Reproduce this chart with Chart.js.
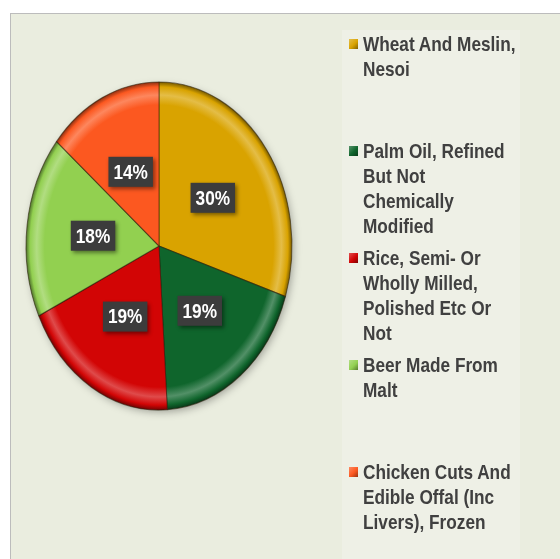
<!DOCTYPE html>
<html>
<head>
<meta charset="utf-8">
<script src="https://cdn.jsdelivr.net/npm/chart.js@4.4.1/dist/chart.umd.min.js"></script>
<style>
  html, body { margin: 0; padding: 0; background: #ffffff; }
  body { width: 560px; height: 559px; position: relative; overflow: hidden; }
  #frame {
    position: absolute; left: 10px; top: 13px; width: 600px; height: 600px;
    background: #eaeddf; border-left: 1px solid #bcbcbc; border-top: 1px solid #bcbcbc;
  }
  #legendPanel {
    position: absolute; left: 342px; top: 30px; width: 178px; height: 540px;
    background: #eef0e6;
  }
  #chartWrap { position: absolute; left: 0; top: 0; width: 560px; height: 559px; }
  .item { position: absolute; left: 349px; }
  .item .box { position: absolute; left: 0; top: 8px; width: 9px; height: 10px; }
  .item .txt {
    position: absolute; left: 14px; top: 0; white-space: nowrap;
    font-family: "Liberation Sans", Arial, sans-serif;
    font-weight: bold; font-size: 21px; line-height: 25px; color: #404040;
    transform: scaleX(0.82); transform-origin: 0 0;
  }
</style>
</head>
<body>
<div id="frame"></div>
<div id="legendPanel"></div>
<div id="chartWrap"><canvas id="myChart" width="560" height="559"></canvas></div>
<div id="legend"></div>
<script>
// data
const categories = [
    ["Wheat And Meslin,", "Nesoi"],
    ["Palm Oil, Refined", "But Not", "Chemically", "Modified"],
    ["Rice, Semi- Or", "Wholly Milled,", "Polished Etc Or", "Not"],
    ["Beer Made From", "Malt"],
    ["Chicken Cuts And", "Edible Offal (Inc", "Livers), Frozen"]
];
const shares = [30, 19, 19, 18, 14];
const sliceColors = ["#d9a300", "#0f652c", "#d20505", "#92d050", "#fc5820"];

const labelFont = 'bold 21px "Liberation Sans", Arial, sans-serif';
const narrow = 0.82; // condensed look of the original font

// pie geometry (circle in chart space, stretched vertically into an ellipse)
const pieRadius = 133;
const stretchY = 164 / 133;

function shade(hex, amt) {
    let r = parseInt(hex.substr(1, 2), 16);
    let g = parseInt(hex.substr(3, 2), 16);
    let b = parseInt(hex.substr(5, 2), 16);
    if (amt > 0) {
        r = r + (255 - r) * amt; g = g + (255 - g) * amt; b = b + (255 - b) * amt;
    } else {
        r = r * (1 + amt); g = g * (1 + amt); b = b * (1 + amt);
    }
    return "rgb(" + Math.round(r) + "," + Math.round(g) + "," + Math.round(b) + ")";
}

function sliceFill(context) {
    const chart = context.chart;
    const area = chart.chartArea;
    const base = sliceColors[context.dataIndex];
    if (!area) return base;
    const cx = (area.left + area.right) / 2;
    const cy = (area.top + area.bottom) / 2;
    const g = chart.ctx.createRadialGradient(cx, cy, 0, cx, cy, pieRadius);
    g.addColorStop(0, base);
    g.addColorStop(0.86, base);
    g.addColorStop(0.92, shade(base, 0.28));
    g.addColorStop(0.97, base);
    g.addColorStop(1, shade(base, -0.45));
    return g;
}

// stretch the pie and draw the dark percentage boxes
const ellipsePlugin = {
    id: "ellipsePie",
    beforeDatasetsDraw(chart) {
        const ctx = chart.ctx;
        const area = chart.chartArea;
        const cx = (area.left + area.right) / 2;
        const cy = (area.top + area.bottom) / 2;
        ctx.save();
        ctx.translate(cx, cy);
        ctx.scale(1, stretchY);
        ctx.translate(-cx, -cy);
        // soft shadow under the pie
        ctx.save();
        ctx.shadowColor = "rgba(0,0,0,0.35)";
        ctx.shadowBlur = 9;
        ctx.shadowOffsetX = 2;
        ctx.shadowOffsetY = 3;
        ctx.fillStyle = "#888";
        ctx.beginPath();
        ctx.arc(cx, cy, pieRadius - 1, 0, Math.PI * 2);
        ctx.fill();
        ctx.restore();
    },
    afterDatasetsDraw(chart) {
        const ctx = chart.ctx;
        ctx.restore();
        const area = chart.chartArea;
        const cy = (area.top + area.bottom) / 2;
        const meta = chart.getDatasetMeta(0);
        ctx.save();
        ctx.font = labelFont;
        ctx.textAlign = "center";
        ctx.textBaseline = "middle";
        meta.data.forEach((arc, i) => {
            const p = arc.tooltipPosition();
            const x = p.x;
            const y = cy + (p.y - cy) * stretchY;
            const txt = shares[i] + "%";
            const w = ctx.measureText(txt).width * narrow + 10;
            const h = 30;
            ctx.save();
            ctx.shadowColor = "rgba(0,0,0,0.45)";
            ctx.shadowBlur = 4;
            ctx.shadowOffsetX = 2;
            ctx.shadowOffsetY = 2;
            ctx.fillStyle = "#3c3c3c";
            ctx.fillRect(x - w / 2, y - h / 2, w, h);
            ctx.restore();
            ctx.save();
            ctx.translate(x, y + 1);
            ctx.scale(narrow, 1);
            ctx.fillStyle = "#ffffff";
            ctx.fillText(txt, 0, 0);
            ctx.restore();
        });
        ctx.restore();
    }
};

function initChart() {
    const ctx = document.getElementById("myChart");
    const config = {
        type: "pie",
        data: {
            labels: categories,
            datasets: [{
                data: shares,
                backgroundColor: sliceFill,
                borderColor: "rgba(40,30,10,0.55)",
                borderWidth: 1,
                clip: false
            }]
        },
        options: {
            responsive: false,
            animation: false,
            radius: pieRadius,
            layout: { padding: { left: 26, right: 268, top: 82, bottom: 149 } },
            plugins: {
                legend: { display: false },
                tooltip: { enabled: false }
            }
        },
        plugins: [ellipsePlugin]
    };
    return new Chart(ctx, config);
}

// legend built from the same arrays
function buildLegend() {
    const holder = document.getElementById("legend");
    const slot = 107;
    categories.forEach((lines, i) => {
        const item = document.createElement("div");
        item.className = "item";
        item.style.top = (31 + i * slot) + "px";
        const box = document.createElement("div");
        box.className = "box";
        box.style.background = "linear-gradient(135deg, " + shade(sliceColors[i], 0.3) + ", " +
            sliceColors[i] + " 55%, " + shade(sliceColors[i], -0.4) + ")";
        const txt = document.createElement("div");
        txt.className = "txt";
        txt.innerHTML = lines.join("<br>");
        item.appendChild(box);
        item.appendChild(txt);
        holder.appendChild(item);
    });
}

buildLegend();
initChart();
</script>
</body>
</html>
